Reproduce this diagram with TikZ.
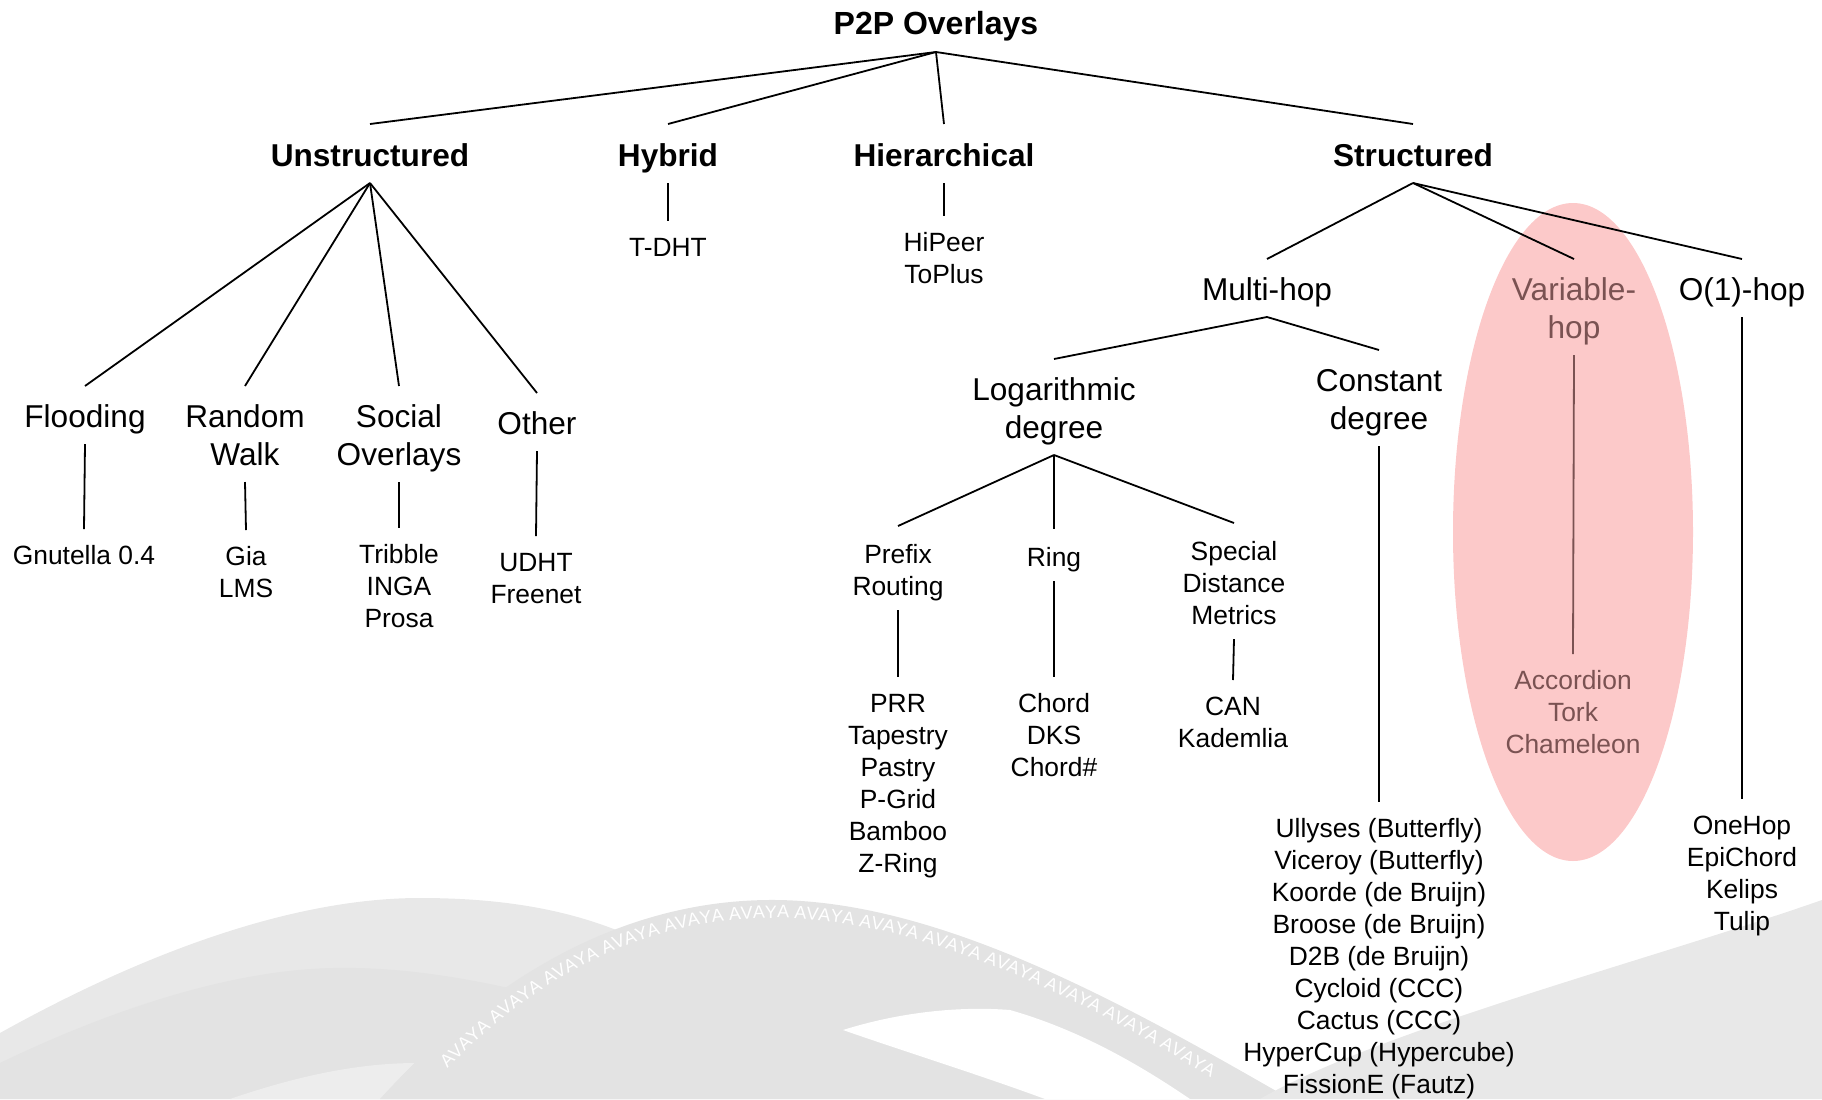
\documentclass[tikz,border=0pt]{standalone}
\usepackage{fontspec}
\setmainfont{Liberation Sans}
\usetikzlibrary{decorations.text}
\definecolor{vhcol}{RGB}{122,82,82}
\definecolor{hlfill}{RGB}{252,201,201}
\definecolor{bgA}{RGB}{232,232,232}
\definecolor{bgB}{RGB}{227,227,227}
\definecolor{bgC}{RGB}{237,237,237}
\newcommand{\myCatTop}{\rule{0pt}{20.5pt}}
\newcommand{\mySubTop}{\rule{0pt}{18.5pt}}
\newcommand{\myLeafTop}{\rule{0pt}{17.8pt}}
\begin{document}
\begin{tikzpicture}[x=0.5pt,y=-0.5pt,
  nbase/.style={inner sep=0pt,outer sep=0pt,align=center,anchor=north},
  ntitle/.style={nbase,anchor=south,font=\fontsize{16}{19.2}\selectfont\bfseries,execute at end node={\rule[-8.75pt]{0pt}{8.75pt}}},
  nhdr/.style={nbase,font=\fontsize{15.8}{19}\selectfont\bfseries,execute at begin node={\rule{0pt}{21pt}},execute at end node={\rule[-8.5pt]{0pt}{8.5pt}}},
  ncat/.style={nbase,font=\fontsize{15.8}{19}\selectfont,execute at begin node={\myCatTop},execute at end node={\rule[-8.5pt]{0pt}{8.5pt}}},
  nsub/.style={nbase,font=\fontsize{13.2}{16}\selectfont,execute at begin node={\mySubTop},execute at end node={\rule[-7.6pt]{0pt}{7.6pt}}},
  nleaf/.style={nbase,font=\fontsize{13.2}{16}\selectfont,execute at begin node={\myLeafTop}},
  link/.style={draw=black,line width=0.9pt},
  vlink/.style={draw=vhcol,line width=0.9pt},
]
\useasboundingbox (0,0) rectangle (1822,1099);
% background swooshes
\fill[bgA] (0,1033) .. controls (140,955) and (290,898) .. (420,898) .. controls (520,898) and (590,915) .. (650,945) -- (1000,1099) -- (0,1099) -- cycle;
\fill[bgB] (0,1063) .. controls (110,1010) and (230,970) .. (333,968) .. controls (430,966) and (520,990) .. (600,1010) -- (650,1099) -- (0,1099) -- cycle;
\fill[bgC] (230,1099) .. controls (300,1075) and (360,1063) .. (417,1063) .. controls (480,1063) and (540,1070) .. (600,1080) -- (640,1099) -- cycle;
\fill[bgB] (380,1099) .. controls (470,1000) and (600,902) .. (767,900) .. controls (930,898) and (1110,995) .. (1290,1099) -- cycle;
\fill[white] (843,1030) .. controls (900,1012) and (960,1006) .. (1010,1010) .. controls (1080,1030) and (1140,1065) .. (1190,1099) -- (1045,1099) .. controls (980,1075) and (900,1050) .. (843,1030) -- cycle;
\fill[bgA] (1260,1099) .. controls (1380,1030) and (1650,960) .. (1822,900) -- (1822,1099) -- cycle;
\path[decorate,decoration={text along path,text align=center,text color=white,
  text={|\fontsize{9}{11}\selectfont|AVAYA AVAYA AVAYA AVAYA AVAYA AVAYA AVAYA AVAYA AVAYA AVAYA AVAYA AVAYA AVAYA}}]
  (420,1099) .. controls (505,1000) and (620,920) .. (767,918) .. controls (920,916) and (1090,1000) .. (1245,1099);
% highlight ellipse
\fill[hlfill] (1573,532) ellipse [x radius=60pt, y radius=164.5pt];
% nodes
\node[ntitle] (root) at (936,52) {P2P Overlays};
\node[nhdr] (uns) at (370,124) {Unstructured};
\node[nhdr] (hyb) at (668,124) {Hybrid};
\node[nhdr] (hie) at (944,124) {Hierarchical};
\node[nhdr] (str) at (1413,124) {Structured};
\node[ncat] (flo) at (85,386) {Flooding};
\node[ncat] (rw) at (245,386) {\myCatTop Random\\Walk};
\node[ncat] (so) at (399,386) {\myCatTop Social\\Overlays};
\node[ncat] (oth) at (537,393) {Other};
\node[nleaf] (gnu) at (84,529) {Gnutella 0.4};
\node[nleaf] (gia) at (246,530) {\myLeafTop Gia\\LMS};
\node[nleaf] (tri) at (399,528) {\myLeafTop Tribble\\INGA\\Prosa};
\node[nleaf] (udht) at (536,536) {\myLeafTop UDHT\\Freenet};
\node[nleaf] (tdht) at (668,221) {T-DHT};
\node[nleaf] (hip) at (944,216) {\myLeafTop HiPeer\\ToPlus};
\node[ncat] (mh) at (1267,259) {Multi-hop};
\node[ncat,text=vhcol] (vh) at (1574,259) {\myCatTop Variable-\\hop};
\node[ncat] (o1) at (1742,259) {O(1)-hop};
\node[ncat] (log) at (1054,359) {\myCatTop Logarithmic\\degree};
\node[ncat] (cd) at (1379,350) {\myCatTop Constant\\degree};
\node[nsub] (pr) at (898,526) {\mySubTop Prefix\\Routing};
\node[nsub] (ring) at (1054,529) {Ring};
\node[nsub] (sdm) at (1234,523) {\mySubTop Special\\Distance\\Metrics};
\node[nleaf] (prr) at (898,677) {\myLeafTop PRR\\Tapestry\\Pastry\\P-Grid\\Bamboo\\Z-Ring};
\node[nleaf] (chd) at (1054,677) {\myLeafTop Chord\\DKS\\Chord\#};
\node[nleaf] (can) at (1233,680) {\myLeafTop CAN\\Kademlia};
\node[nleaf] (ull) at (1379,802) {\myLeafTop Ullyses (Butterfly)\\Viceroy (Butterfly)\\Koorde (de Bruijn)\\Broose (de Bruijn)\\D2B (de Bruijn)\\Cycloid (CCC)\\Cactus (CCC)\\HyperCup (Hypercube)\\FissionE (Fautz)};
\node[nleaf,text=vhcol] (acc) at (1573,654) {\myLeafTop Accordion\\Tork\\Chameleon};
\node[nleaf] (one) at (1742,799) {\myLeafTop OneHop\\EpiChord\\Kelips\\Tulip};
% connectors
\draw[link] (root.south) -- (uns.north);
\draw[link] (root.south) -- (hyb.north);
\draw[link] (root.south) -- (hie.north);
\draw[link] (root.south) -- (str.north);
\draw[link] (uns.south) -- (flo.north);
\draw[link] (uns.south) -- (rw.north);
\draw[link] (uns.south) -- (so.north);
\draw[link] (uns.south) -- (oth.north);
\draw[link] (flo.south) -- (gnu.north);
\draw[link] (rw.south) -- (gia.north);
\draw[link] (so.south) -- (tri.north);
\draw[link] (oth.south) -- (udht.north);
\draw[link] (hyb.south) -- (tdht.north);
\draw[link] (hie.south) -- (hip.north);
\draw[link] (str.south) -- (mh.north);
\draw[link] (str.south) -- (vh.north);
\draw[link] (str.south) -- (o1.north);
\draw[link] (mh.south) -- (log.north);
\draw[link] (mh.south) -- (cd.north);
\draw[link] (log.south) -- (pr.north);
\draw[link] (log.south) -- (ring.north);
\draw[link] (log.south) -- (sdm.north);
\draw[link] (pr.south) -- (prr.north);
\draw[link] (ring.south) -- (chd.north);
\draw[link] (sdm.south) -- (can.north);
\draw[link] (cd.south) -- (ull.north);
\draw[vlink] (vh.south) -- (acc.north);
\draw[link] (o1.south) -- (one.north);
\end{tikzpicture}
\end{document}
